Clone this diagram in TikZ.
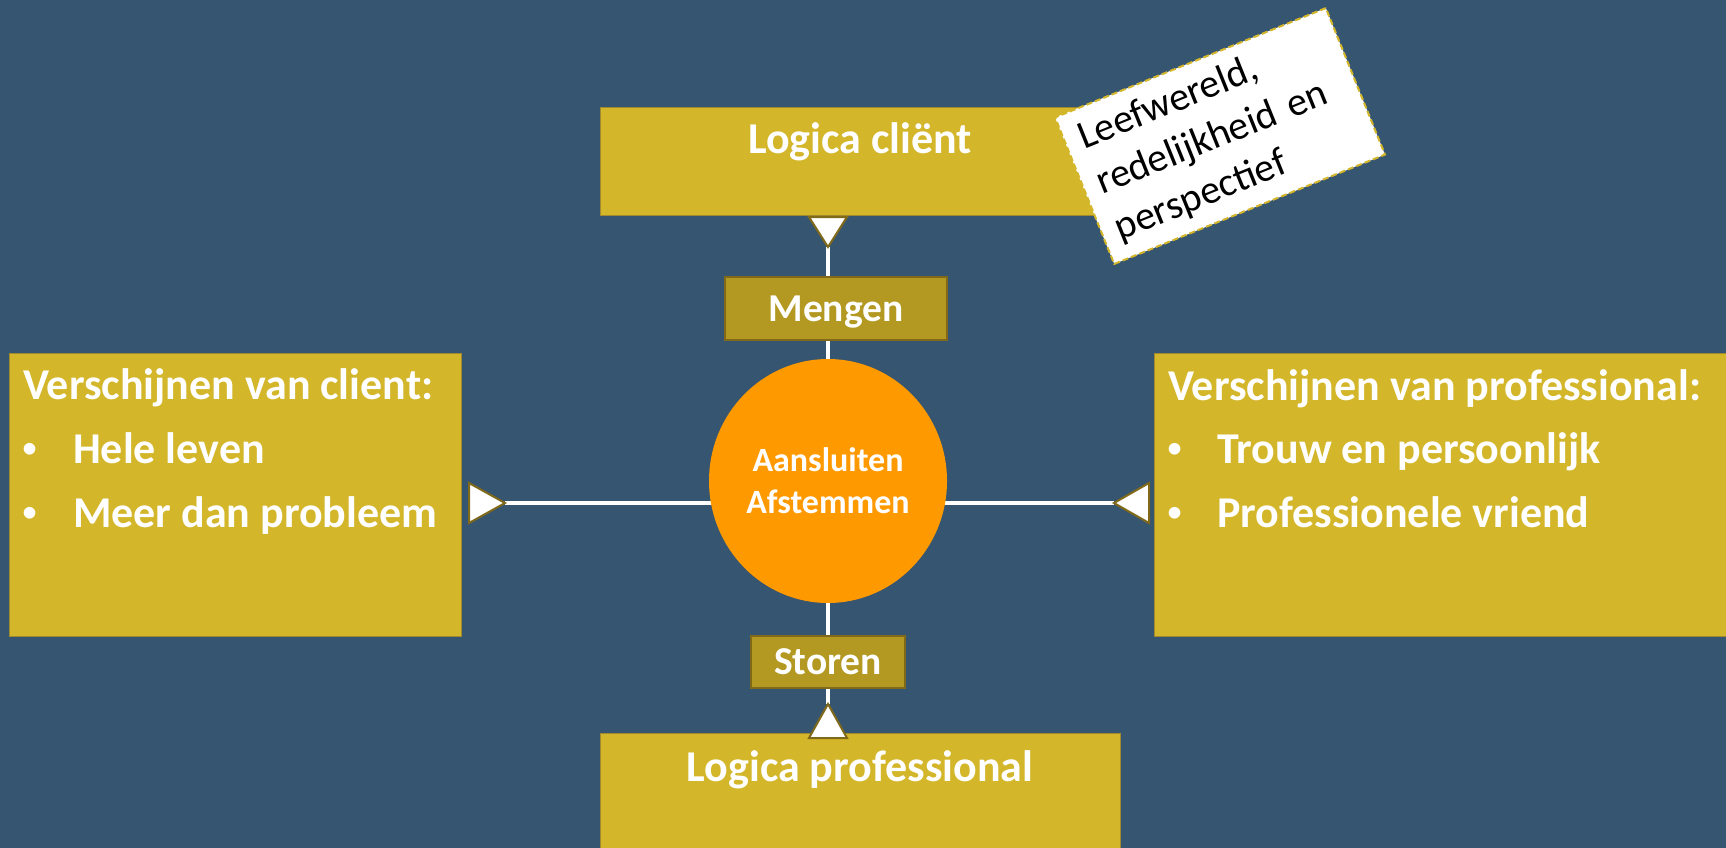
\documentclass[tikz,border=0pt]{standalone}
\usepackage{fontspec}
\setmainfont{Carlito}
\newfontfamily\bulletfont{Liberation Sans}
\usetikzlibrary{backgrounds,shapes.geometric}
\definecolor{bg}{RGB}{54,85,112}
\definecolor{gold}{RGB}{211,182,42}
\definecolor{goldline}{RGB}{160,138,45}
\definecolor{dgold}{RGB}{179,153,34}
\definecolor{dgoldline}{RGB}{128,106,26}
\definecolor{trioutline}{RGB}{128,106,26}
\definecolor{orng}{RGB}{255,153,0}
\tikzset{
  bigbox/.style={fill=gold, draw=goldline, line width=1pt, inner sep=0pt},
  smallbox/.style={fill=dgold, draw=dgoldline, line width=2.5pt, inner sep=0pt,
    text=white, text depth=0pt, font=\bfseries\fontsize{39.5}{46}\selectfont},
  boxtitle/.style={text=white, inner sep=0pt, font=\bfseries\fontsize{44}{52}\selectfont},
  itemtxt/.style={text=white, inner sep=0pt, font=\bfseries\fontsize{44}{52}\selectfont},
  bullettxt/.style={text=white, inner sep=0pt, font=\bulletfont\fontsize{43}{52}\selectfont},
  wire/.style={draw=white, line width=4.5pt},
  tri/.style={fill=white, draw=trioutline, line width=2pt, line join=miter},
  note/.style={fill=white, draw=gold, dash pattern=on 6pt off 3pt, line width=2pt,
    minimum width=292pt, minimum height=158pt, text width=262pt, inner xsep=15pt,
    inner ysep=0pt, align=left, text=black, font=\fontsize{40}{49}\selectfont}
}
\begin{document}
\begin{tikzpicture}[x=1pt,y=-1pt]
\useasboundingbox (0,0) rectangle (1726,847);
\begin{scope}[on background layer]
  \fill[bg] (-5,-5) rectangle (1731,852);
\end{scope}

% big boxes
\node[bigbox, minimum width=520pt, minimum height=108pt] (topbox) at (860,161) {};
\node[boxtitle, anchor=base] (topT) at (860,153) {Logica cliënt};

\node[bigbox, minimum width=520pt, minimum height=127pt] (botbox) at (860,796.5) {};
\node[boxtitle, anchor=base] (botT) at (860,781) {Logica professional};

\node[bigbox, minimum width=452pt, minimum height=283pt] (leftbox) at (235,494.5) {};
\node[boxtitle, anchor=base west] (leftT) at (23,399) {Verschijnen van client:};
\node[bullettxt, anchor=base west] (lb1) at (22,463) {•};
\node[itemtxt, anchor=base west] (li1) at (73,463) {Hele leven};
\node[bullettxt, anchor=base west] (lb2) at (22,527) {•};
\node[itemtxt, anchor=base west] (li2) at (73,527) {Meer dan probleem};

\node[bigbox, minimum width=576pt, minimum height=283pt] (rightbox) at (1442,494.5) {};
\node[boxtitle, anchor=base west] (rightT) at (1168,400) {Verschijnen van professional:};
\node[bullettxt, anchor=base west] (rb1) at (1167,463) {•};
\node[itemtxt, anchor=base west] (ri1) at (1217,463) {Trouw en persoonlijk};
\node[bullettxt, anchor=base west] (rb2) at (1167,527) {•};
\node[itemtxt, anchor=base west] (ri2) at (1217,527) {Professionele vriend};

% middle boxes
\node[smallbox, minimum width=222pt, minimum height=63pt] (mengen) at (836,308.5) {Mengen};
\node[smallbox, minimum width=154pt, minimum height=52pt] (storen) at (828,662) {Storen};

% centre circle
\node[ellipse, fill=orng, draw=none, minimum width=238pt, minimum height=244pt,
  inner sep=0pt, text=white, align=center,
  font=\bfseries\fontsize{34}{42}\selectfont] (circ) at (828,481) {Aansluiten\\Afstemmen};

% triangle apexes
\coordinate (aT) at (828,247);
\coordinate (aB) at (828,704);
\coordinate (aL) at (505,503);
\coordinate (aR) at (1114,503);

% connectors
\begin{scope}[on background layer]
  \draw[wire] (circ.north) -- (circ.north |- mengen.south);
  \draw[wire] (mengen.north -| aT) -- (aT);
  \draw[wire] (circ.south) -- (circ.south |- storen.north);
  \draw[wire] (storen.south -| aB) -- (aB);
  \draw[wire] (aL) -- (aL -| circ.center);
  \draw[wire] (aR) -- (aR -| circ.center);
\end{scope}

% triangles
\filldraw[tri] (aT) ++(-19,-30) -- ++(38,0) -- (aT) -- cycle;
\filldraw[tri] (aB) ++(-19,34) -- ++(38,0) -- (aB) -- cycle;
\filldraw[tri] (aL) ++(-36,-20) -- ++(0,40) -- (aL) -- cycle;
\filldraw[tri] (aR) ++(35,-20) -- ++(0,40) -- (aR) -- cycle;

% note
\node[note, rotate=22] (notebox) at (1220,136) {Leefwereld,\\redelijkheid en\\perspectief};
\end{tikzpicture}
\end{document}
